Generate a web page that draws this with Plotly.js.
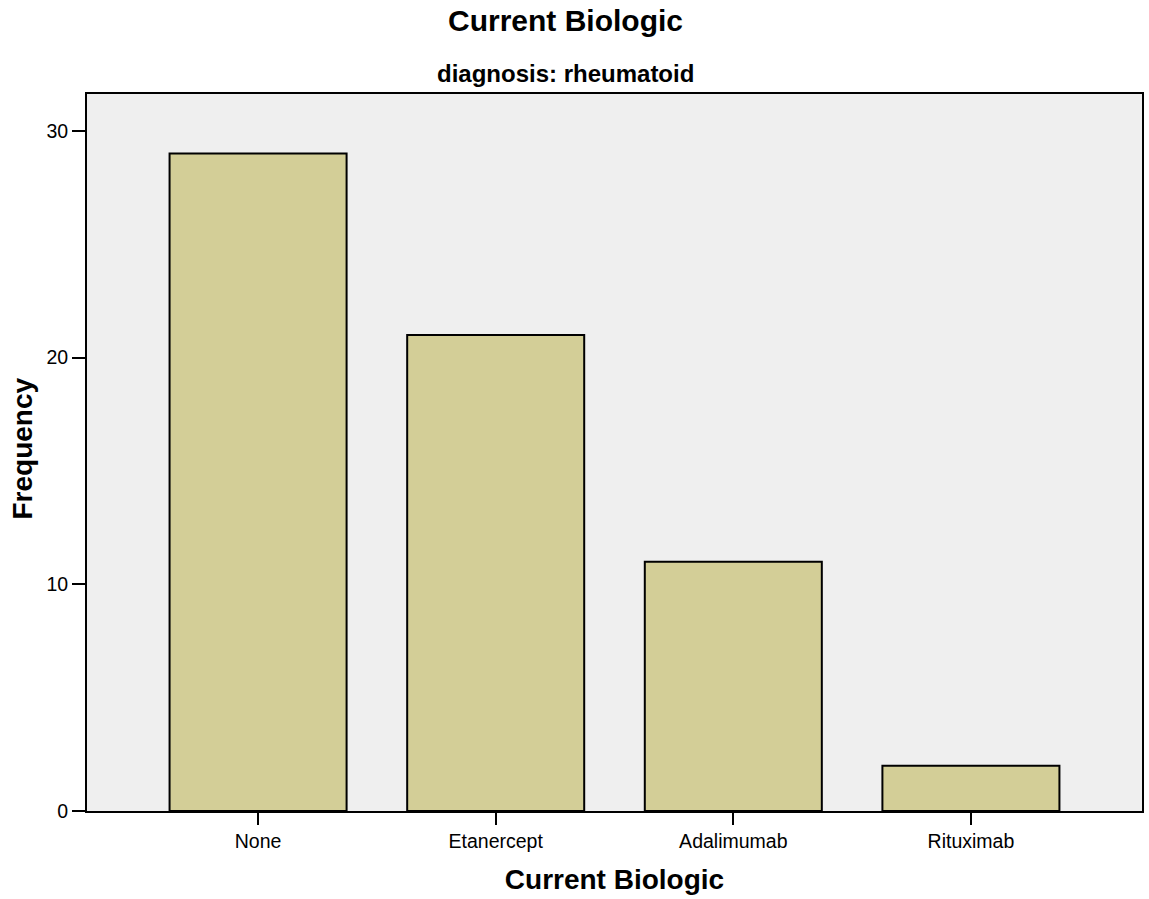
<!DOCTYPE html>
<html>
<head>
<meta charset="utf-8">
<script src="https://cdn.plot.ly/plotly-3.0.1.min.js"></script>
<style>html,body{margin:0;padding:0;background:#fff;}#chart{width:1149px;height:899px;}</style>
</head>
<body>
<div id="chart"></div>
<script>
const categories = ["None", "Etanercept", "Adalimumab", "Rituximab"];
const frequencies = [29, 21, 11, 2];
const yTicks = [0, 10, 20, 30];
const chartTitle = "Current Biologic";
const subTitle = "diagnosis: rheumatoid";
const xTitle = "Current Biologic";
const yTitle = "Frequency";

const FONT = "Liberation Sans, Arial, sans-serif";

const trace = {
  type: "bar",
  x: [0, 1, 2, 3],
  y: frequencies,
  width: 0.745,
  marker: {color: "#d3ce97", line: {color: "#000000", width: 2}},
  hoverinfo: "x+y"
};

const layout = {
  width: 1149, height: 899,
  margin: {l: 87, r: 7, t: 94, b: 88},
  paper_bgcolor: "#ffffff",
  plot_bgcolor: "#efefef",
  showlegend: false,
  font: {family: FONT, color: "#000"},
  xaxis: {
    range: [-0.72, 3.72],
    tickmode: "array", tickvals: [0, 1, 2, 3], ticktext: categories,
    ticks: "outside", ticklen: 12, tickwidth: 2, tickcolor: "#000",
    showgrid: false, zeroline: false,
    showline: true, linecolor: "#000", linewidth: 2, mirror: true,
    tickfont: {family: FONT, size: 19.5, color: "#000"},
    title: {text: xTitle, font: {family: FONT, size: 28, color: "#000", weight: "bold"}, standoff: 18}
  },
  yaxis: {
    range: [0, 31.63],
    tickmode: "array", tickvals: yTicks,
    ticks: "outside", ticklen: 13, tickwidth: 2, tickcolor: "#000",
    showgrid: false, zeroline: false,
    showline: true, linecolor: "#000", linewidth: 2, mirror: true,
    tickfont: {family: FONT, size: 19.5, color: "#000"}
  },
  annotations: [
    {text: "<b>" + chartTitle + "</b>", xref: "paper", yref: "paper", x: 0.454, y: 1, yshift: 74,
     xanchor: "center", yanchor: "middle", showarrow: false, font: {family: FONT, size: 30, color: "#000"}},
    {text: "<b>" + subTitle + "</b>", xref: "paper", yref: "paper", x: 0.454, y: 1, yshift: 21,
     xanchor: "center", yanchor: "middle", showarrow: false, font: {family: FONT, size: 24, color: "#000"}},
    {text: "<b>" + yTitle + "</b>", xref: "paper", yref: "paper", x: 0, y: 0.5, xshift: -65, yshift: 4,
     textangle: -90, xanchor: "center", yanchor: "middle", showarrow: false,
     font: {family: FONT, size: 28, color: "#000"}}
  ]
};

Plotly.newPlot("chart", [trace], layout, {displayModeBar: false, staticPlot: true});
</script>
</body>
</html>
